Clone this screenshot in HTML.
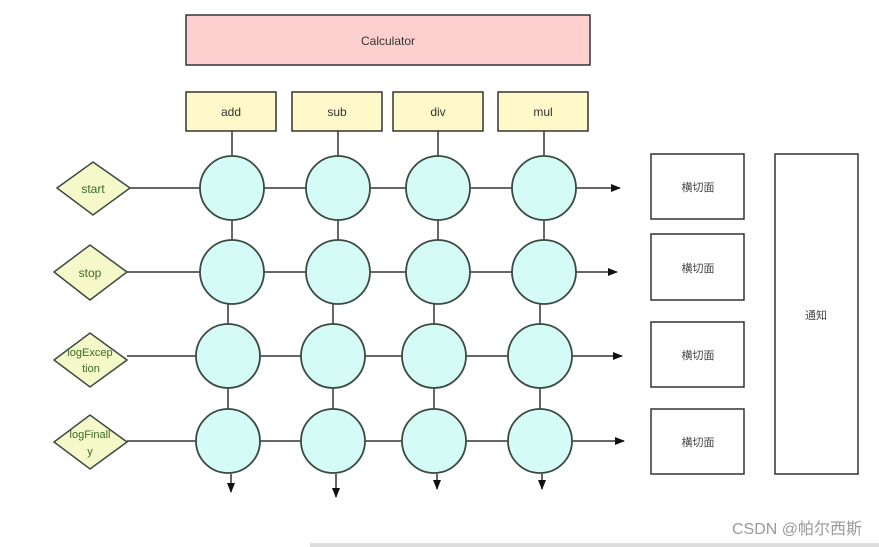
<!DOCTYPE html>
<html><head><meta charset="utf-8"><style>body{margin:0;background:#fff}svg{display:block}</style></head><body>
<svg width="879" height="547" viewBox="0 0 879 547" xmlns="http://www.w3.org/2000/svg" font-family="Liberation Sans, Noto Sans CJK SC, sans-serif">
<defs><marker id="a" markerWidth="10" markerHeight="10" refX="9" refY="5" orient="auto" markerUnits="userSpaceOnUse"><path d="M0,1 L10,5 L0,9 z" fill="#111"/></marker></defs>
<rect x="186" y="15" width="404" height="50" fill="#fdd0cf" stroke="#333" stroke-width="1.5"/>
<text x="388" y="45" font-size="12" text-anchor="middle" fill="#333">Calculator</text>
<g fill="#fff8c8" stroke="#333" stroke-width="1.5">
<rect x="186" y="92" width="90" height="39"/><rect x="292" y="92" width="90" height="39"/><rect x="393" y="92" width="90" height="39"/><rect x="498" y="92" width="90" height="39"/></g>
<g font-size="12" text-anchor="middle" fill="#333"><text x="231" y="116">add</text><text x="337" y="116">sub</text><text x="438" y="116">div</text><text x="543" y="116">mul</text></g>
<g stroke="#333" stroke-width="1.5" fill="none">
<path d="M232,131 V272 M228,272 V473"/>
<path d="M338,131 V272 M333,272 V473"/>
<path d="M438,131 V272 M434,272 V473"/>
<path d="M544,131 V272 M540,272 V473"/>
<path d="M130,188 H620" marker-end="url(#a)"/>
<path d="M127,272 H617" marker-end="url(#a)"/>
<path d="M127,356 H622" marker-end="url(#a)"/>
<path d="M127,441 H624" marker-end="url(#a)"/>
</g>
<g fill="#d5fbf6" stroke="#3a4a40" stroke-width="1.8">
<circle cx="232" cy="188" r="32"/><circle cx="338" cy="188" r="32"/><circle cx="438" cy="188" r="32"/><circle cx="544" cy="188" r="32"/>
<circle cx="232" cy="272" r="32"/><circle cx="338" cy="272" r="32"/><circle cx="438" cy="272" r="32"/><circle cx="544" cy="272" r="32"/>
<circle cx="228" cy="356" r="32"/><circle cx="333" cy="356" r="32"/><circle cx="434" cy="356" r="32"/><circle cx="540" cy="356" r="32"/>
<circle cx="228" cy="441" r="32"/><circle cx="333" cy="441" r="32"/><circle cx="434" cy="441" r="32"/><circle cx="540" cy="441" r="32"/>
</g>
<g stroke="#333" stroke-width="1.5" fill="none">
<path d="M231,474 V492" marker-end="url(#a)"/>
<path d="M336,474 V497" marker-end="url(#a)"/>
<path d="M437,474 V489" marker-end="url(#a)"/>
<path d="M542,474 V489" marker-end="url(#a)"/>
</g>
<g fill="#f5f8c8" stroke="#3a4a40" stroke-width="1.5">
<polygon points="57,188 93,162 130,188 93,215"/>
<polygon points="54,272 90,245 127,272 90,300"/>
<polygon points="54,360 90,333 127,360 90,387"/>
<polygon points="54,442 90,415 127,442 90,469"/>
</g>
<g font-size="12" text-anchor="middle" fill="#3a6a2a">
<text x="93" y="193">start</text><text x="90" y="277">stop</text>
<text x="90" y="356" font-size="11">logExcep</text><text x="91" y="372" font-size="11">tion</text>
<text x="90" y="438" font-size="11">logFinall</text><text x="90" y="455" font-size="11">y</text></g>
<g fill="#fff" stroke="#333" stroke-width="1.5">
<rect x="651" y="154" width="93" height="65"/><rect x="651" y="234" width="93" height="66"/><rect x="651" y="322" width="93" height="65"/><rect x="651" y="409" width="93" height="65"/>
<rect x="775" y="154" width="83" height="320"/></g>
<g font-size="11" text-anchor="middle" fill="#444">
<text x="698" y="191">横切面</text><text x="698" y="272">横切面</text><text x="698" y="359">横切面</text><text x="698" y="446">横切面</text><text x="816" y="319">通知</text></g>
<text x="862" y="534" font-size="16" text-anchor="end" fill="#999">CSDN @帕尔西斯</text>
<rect x="310" y="543" width="569" height="4" fill="#ddd"/>
</svg>
</body></html>
